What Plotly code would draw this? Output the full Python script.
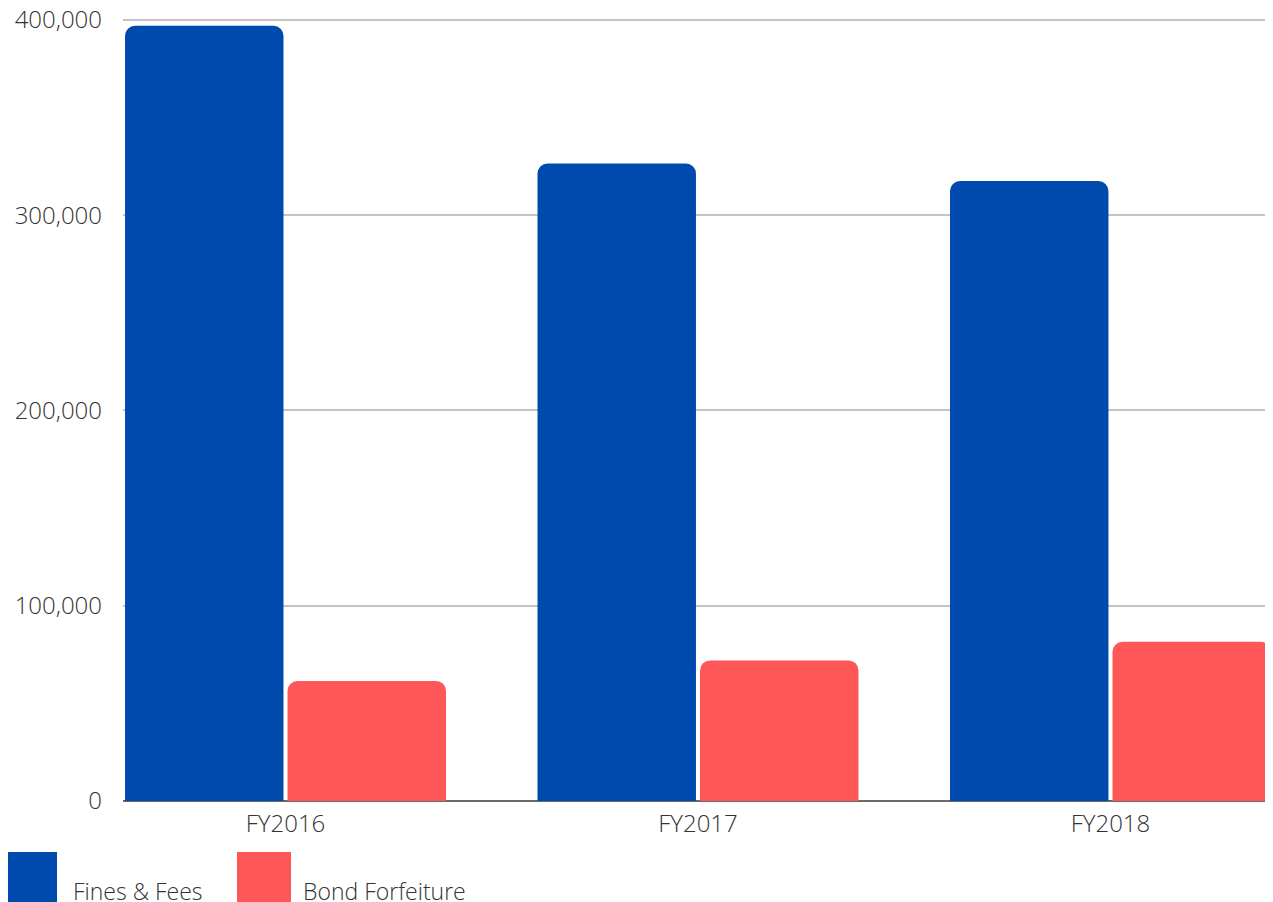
import plotly.graph_objects as go

categories = ["FY2016", "FY2017", "FY2018"]
series_names = ["Fines & Fees", "Bond Forfeiture"]
fines_fees = [397000, 326500, 317500]
bond_forfeiture = [61500, 72000, 81500]
colors = ["#004AAD", "#FF5757"]
y_ticks = [0, 100000, 200000, 300000, 400000]
y_tick_labels = ["0", "100,000", "200,000", "300,000", "400,000"]

# page body has an 8px default margin; compensate so the plot lands where intended
OFF = 8
W, H = 1273 - OFF, 902 - OFF
Y_MAX = 401000
plot_left, plot_right = 123, 1273          # page pixels
y0_px, y400_px = 801, 20                   # page pixels of 0 and 400,000
ph = (y0_px - y400_px) * Y_MAX / 400000
plot_top = y0_px - ph

L = plot_left - OFF
R = W - (plot_right - OFF)
T = plot_top - OFF
B = H - (y0_px - OFF)
PW = W - L - R
PH = H - T - B

FONT = dict(family="Open Sans", size=24, color="#333333", weight=300)
LEG_FONT = dict(family="Open Sans", size=23, color="#333333", weight=300)

fig = go.Figure()
for name, vals, col in zip(series_names, [fines_fees, bond_forfeiture], colors):
    fig.add_trace(go.Bar(x=categories, y=vals, name=name,
                         marker=dict(color=col, line=dict(width=0), cornerradius=10),
                         showlegend=False))

def px_x(p):
    return (p - OFF - L) / PW

def px_y(p):
    return (H - B - (p - OFF)) / PH

# legend drawn as swatches + labels
legend_items = [(3, 73), (237, 303)]
shapes = []
annotations = []
for (sx, tx), name, col in zip(legend_items, series_names, colors):
    shapes.append(dict(type="rect", xref="paper", yref="paper",
                       x0=px_x(sx), x1=px_x(sx + 54), y0=px_y(852), y1=px_y(910),
                       fillcolor=col, line=dict(width=0), layer="above"))
    annotations.append(dict(xref="paper", yref="paper", x=px_x(tx - 2), y=px_y(891),
                            xanchor="left", yanchor="middle", text=name,
                            showarrow=False, font=LEG_FONT))

fig.update_layout(
    width=W, height=H,
    margin=dict(l=L, r=R, t=T, b=B, pad=0, autoexpand=False),
    paper_bgcolor="white", plot_bgcolor="white",
    barmode="group", bargap=0.212, bargroupgap=0.025,
    font=FONT,
    shapes=shapes, annotations=annotations,
    xaxis=dict(range=[-0.394, 2.394], showgrid=False, zeroline=False,
               showline=False, ticks="", tickfont=FONT, ticklabelstandoff=6,
               automargin=False),
    yaxis=dict(range=[0, Y_MAX], tickvals=y_ticks, ticktext=y_tick_labels,
               showgrid=True, gridcolor="#c4c4c4", gridwidth=2,
               zeroline=True, zerolinecolor="#6a6a6a", zerolinewidth=2,
               showline=False, ticks="", tickfont=FONT, ticklabelstandoff=20,
               ticklabeloverflow="allow", automargin=False),
)

fig.write_html("out.html")
